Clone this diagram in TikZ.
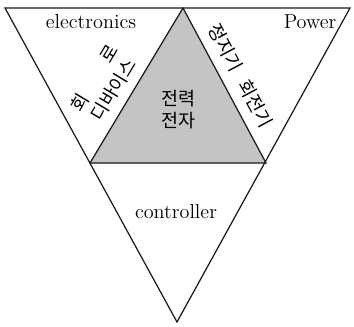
\documentclass[tikz,border=0pt]{standalone}
\usepackage{fontspec}
\newfontfamily\kofont{Noto Sans CJK KR}
\usetikzlibrary{positioning, calc}
\definecolor{inkLine}{HTML}{1A1A1A}
\definecolor{shadeCore}{HTML}{C4C4C4}
\tikzset{
  edge/.style={draw=inkLine, line width=0.7pt, line join=miter},
  word/.style={font=\fontsize{11.5}{13}\selectfont, inner sep=1pt},
  hangul/.style={font=\kofont\fontsize{10.5}{12.5}\selectfont, inner sep=1pt, align=center},
}
\begin{document}
\begin{tikzpicture}[x=0.02cm, y=-0.02cm]
\useasboundingbox (0,0) rectangle (354,326);
% corners of the outer triangle and of the inner one
\coordinate (tl) at (5,8);
\coordinate (tr) at (350,8);
\coordinate (bot) at (177,322);
\coordinate (top) at (183,8);
\coordinate (ml) at (90,163);
\coordinate (mr) at (266,163);
\fill[shadeCore] (top) -- (mr) -- (ml) -- cycle;
\draw[edge] (tl) -- (tr) -- (bot) -- cycle;
\draw[edge] (ml) -- (top) -- (mr) -- cycle;
\node[word] (elec) at (91,22) {electronics};
\node[word] (power) at (310,22) {Power};
\node[word] (ctrl) at (176,212) {controller};
\node[hangul] (core) at (178,110) {전력\\전자};
\node[hangul, rotate=59] (device) at (104,84) {\makebox[4em][s]{회\hfill 로}\\디바이스};
\node[hangul, rotate=-62] (machine) at (241,76) {정지기\hspace{0.7em}회전기};
\end{tikzpicture}
\end{document}
